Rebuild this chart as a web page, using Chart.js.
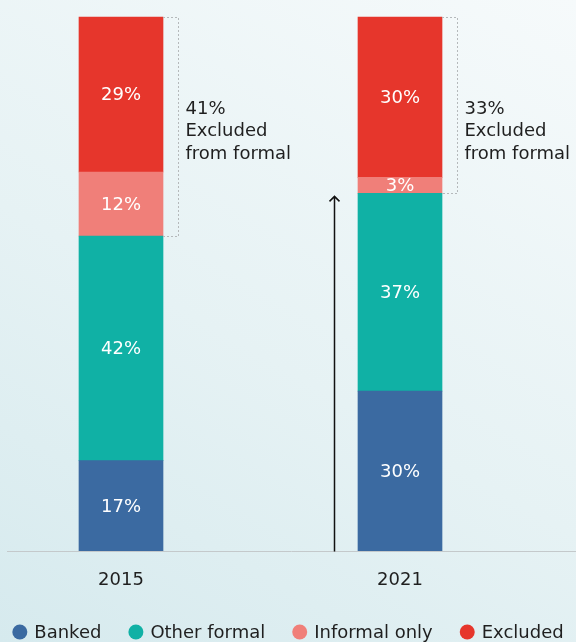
<!DOCTYPE html>
<html>
  <head>
    <title>Financial inclusion 2015 vs 2021</title>
    <script src="https://cdn.jsdelivr.net/npm/chart.js"></script>
    <style>
      html, body { margin: 0; padding: 0; }
      body {
        width: 576px;
        height: 642px;
        overflow: hidden;
        background: linear-gradient(30deg, #d6eaee 0%, #e6f2f4 45%, #f6fafb 100%);
      }
      canvas { display: block; }
    </style>
  </head>
  <body>
    <canvas id="inclusion-chart" width="576" height="642"></canvas>

    <script>
      // share of adults, percent
      const years = ["2015", "2021"];
      const banked = [17, 30];
      const otherFormal = [42, 37];
      const informalOnly = [12, 3];
      const excluded = [29, 30];

      const seriesNames = ["Banked", "Other formal", "Informal only", "Excluded"];
      const seriesColors = ["#3b6aa1", "#10b1a5", "#f07f79", "#e6362c"];
      const seriesValues = [banked, otherFormal, informalOnly, excluded];

      const FONT = "'DejaVu Sans', sans-serif";
      const INK = "#1f1f1f";

      // white % labels inside each segment
      const segmentLabels = {
        id: "segmentLabels",
        afterDatasetsDraw(chart) {
          const ctx = chart.ctx;
          ctx.save();
          ctx.font = "18px " + FONT;
          ctx.fillStyle = "#ffffff";
          ctx.textAlign = "center";
          ctx.textBaseline = "middle";
          chart.data.datasets.forEach((ds, i) => {
            chart.getDatasetMeta(i).data.forEach((bar, j) => {
              ctx.fillText(ds.data[j] + "%", bar.x, (bar.y + bar.base) / 2 + 1);
            });
          });
          ctx.restore();
        },
      };

      // baseline, dotted brackets with notes, and the arrow
      const extras = {
        id: "extras",
        afterDraw(chart) {
          const ctx = chart.ctx;
          const y = chart.scales.y;
          const bars = chart.getDatasetMeta(0).data;
          const base = y.getPixelForValue(0);

          ctx.save();
          ctx.strokeStyle = "#c4c9cb";
          ctx.lineWidth = 1;
          ctx.beginPath();
          ctx.moveTo(7, Math.round(base) + 0.5);
          ctx.lineTo(chart.width, Math.round(base) + 0.5);
          ctx.stroke();

          years.forEach((yr, j) => {
            const right = bars[j].x + bars[j].width / 2;
            const top = Math.round(y.getPixelForValue(banked[j] + otherFormal[j] + informalOnly[j] + excluded[j]));
            const bottom = Math.round(y.getPixelForValue(banked[j] + otherFormal[j]));
            const bx = Math.round(right + 15) + 0.5;
            ctx.strokeStyle = "#b5b9bb";
            ctx.setLineDash([2, 2]);
            ctx.beginPath();
            ctx.moveTo(right, top + 0.5);
            ctx.lineTo(bx, top + 0.5);
            ctx.lineTo(bx, bottom + 0.5);
            ctx.lineTo(right, bottom + 0.5);
            ctx.stroke();
            ctx.setLineDash([]);

            const lines = [informalOnly[j] + excluded[j] + "%", "Excluded", "from formal"];
            ctx.font = "18px " + FONT;
            ctx.fillStyle = INK;
            ctx.textAlign = "left";
            ctx.textBaseline = "middle";
            lines.forEach((t, k) => ctx.fillText(t, bx + 7, top + 92 + k * 22.5));
          });

          // arrow up to the 2021 formal share
          const last = bars[bars.length - 1];
          const ax = Math.round(last.x - last.width / 2 - 24) + 0.5;
          const tip = y.getPixelForValue(banked[1] + otherFormal[1]) + 3;
          ctx.strokeStyle = "#111";
          ctx.lineWidth = 1.5;
          ctx.beginPath();
          ctx.moveTo(ax, base);
          ctx.lineTo(ax, tip);
          ctx.moveTo(ax - 5, tip + 5);
          ctx.lineTo(ax, tip);
          ctx.lineTo(ax + 5, tip + 5);
          ctx.stroke();

          // legend row
          ctx.font = "18px " + FONT;
          const gap = 27;
          const widths = seriesNames.map((n) => 15 + 7 + ctx.measureText(n).width);
          const total = widths.reduce((a, b) => a + b, 0) + gap * (widths.length - 1);
          let x = (chart.width - total) / 2;
          const ly = 632;
          seriesNames.forEach((n, i) => {
            ctx.fillStyle = seriesColors[i];
            ctx.beginPath();
            ctx.arc(x + 7.5, ly, 7.5, 0, Math.PI * 2);
            ctx.fill();
            ctx.fillStyle = INK;
            ctx.textAlign = "left";
            ctx.textBaseline = "middle";
            ctx.fillText(n, x + 22, ly + 1);
            x += widths[i] + gap;
          });
          ctx.restore();
        },
      };

      const ctx = document.getElementById("inclusion-chart").getContext("2d");
      new Chart(ctx, {
        type: "bar",
        data: {
          labels: years,
          datasets: seriesNames.map((name, i) => ({
            label: name,
            data: seriesValues[i],
            backgroundColor: seriesColors[i],
            borderWidth: 0,
            barThickness: 84,
            clip: false,
          })),
        },
        options: {
          responsive: false,
          animation: false,
          layout: { padding: { left: 121, right: 176, top: 17, bottom: 33 } },
          plugins: { legend: { display: false }, tooltip: { enabled: false } },
          scales: {
            x: {
              stacked: true,
              offset: false,
              grid: { display: false, drawTicks: false },
              border: { display: false },
              ticks: { padding: 18, color: INK, font: { size: 18, family: FONT } },
            },
            y: {
              stacked: true,
              display: false,
              min: 0,
              max: 100,
            },
          },
        },
        plugins: [segmentLabels, extras],
      });
    </script>
  </body>
</html>
